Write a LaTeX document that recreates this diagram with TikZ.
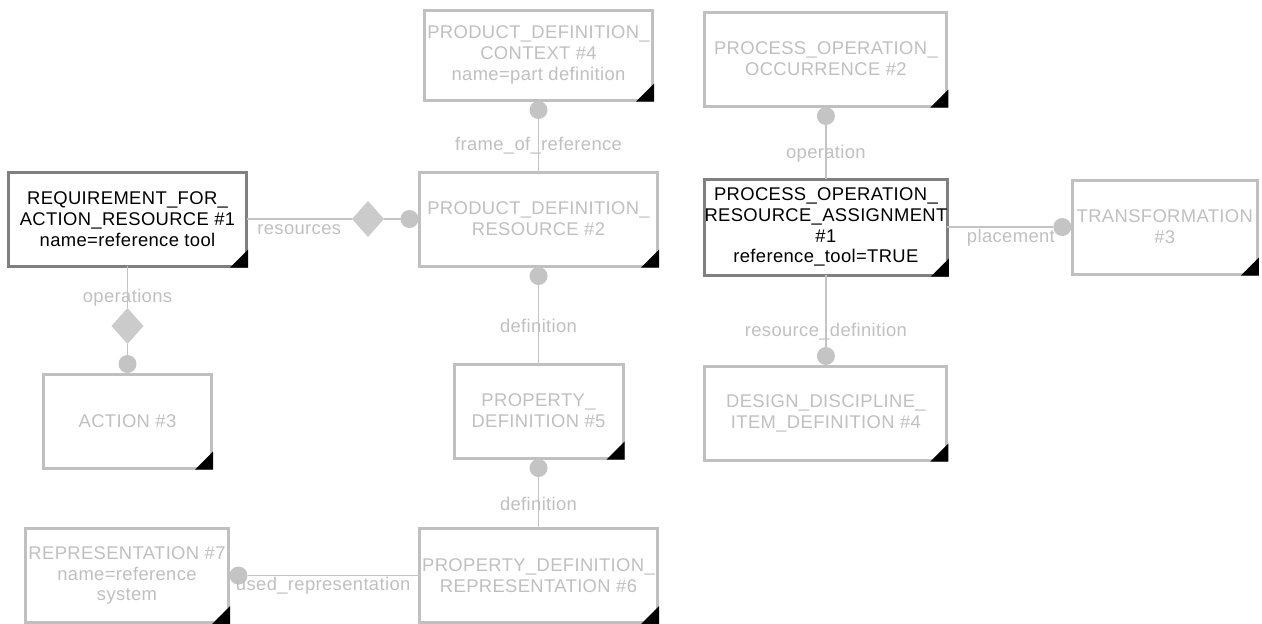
\documentclass[tikz,border=0pt]{standalone}
\usepackage{fontspec}
\setmainfont{Liberation Sans}[LetterSpace=2]
\usepackage{tikz}
\usetikzlibrary{positioning}
\usetikzlibrary{shapes.geometric}
\definecolor{boxgray}{RGB}{192,192,192}
\definecolor{framegray}{RGB}{128,128,128}
\definecolor{linegray}{RGB}{196,196,196}
\definecolor{diagray}{RGB}{203,203,203}
\newcommand{\entfont}{\fontsize{9.2pt}{10.4pt}\selectfont}

\begin{document}
\begin{tikzpicture}[
    entity/.style={rectangle, draw=boxgray, line width=1.5pt, fill=white, text=boxgray, minimum height=47pt, align=center, inner xsep=0pt, inner ysep=1pt, outer sep=0pt, font=\entfont},
    focus/.style={entity, draw=framegray, text=black},
    dot/.style={circle, fill=linegray, minimum size=9pt, inner sep=0pt, outer sep=0pt},
    agg/.style={diamond, fill=diagray, minimum width=16pt, minimum height=18pt, aspect=0.89, inner sep=0pt, outer sep=0pt},
    conn/.style={draw=linegray, line width=0.8pt},
    lbl/.style={font=\entfont, text=boxgray, inner sep=0.5pt}
]
\useasboundingbox (0,0) rectangle (631pt,-311.5pt);

% Requirement and action
\node[focus, minimum width=119pt] (req) at (63.75pt,-109.5pt) {REQUIREMENT\_FOR\_\\ACTION\_RESOURCE \#1\\name=reference tool};
\node[agg, below=21pt of req] (opsdia) {};
\node[entity, below=15pt of opsdia, minimum width=84pt] (action) {ACTION \#3};
\node[dot, above=0.5pt of action] (actdot) {};

% Product definition chain
\node[entity, right=86.5pt of req, minimum width=119pt] (pdr) {PRODUCT\_DEFINITION\_\\RESOURCE \#2};
\node[dot, left=0.5pt of pdr] (resdot) {};
\node[agg, left=8.25pt of resdot] (resdia) {};
\node[entity, above=36pt of pdr, minimum width=114pt, minimum height=45pt] (pdc) {PRODUCT\_DEFINITION\_\\CONTEXT \#4\\name=part definition};
\node[dot, below=0.5pt of pdc] (pdcdot) {};
\node[dot, below=0.5pt of pdr] (pdrdot) {};
\node[entity, below=49pt of pdr, minimum width=84.5pt] (pd5) {PROPERTY\_\\DEFINITION \#5};
\node[dot, below=0.5pt of pd5] (pd5dot) {};
\node[entity, below=35.25pt of pd5, minimum width=119pt] (pdrep) {PROPERTY\_DEFINITION\_\\REPRESENTATION \#6};
\node[entity, left=95.5pt of pdrep, minimum width=101.5pt] (rep7) {REPRESENTATION \#7\\name=reference\\system};
\node[dot, right=0.5pt of rep7] (rep7dot) {};

% Process operation
\node[focus, right=23.5pt of pdr, yshift=-4pt, minimum width=121pt, minimum height=48pt] (por) {PROCESS\_OPERATION\_\\RESOURCE\_ASSIGNMENT\\\#1\\reference\_tool=TRUE};
\node[entity, above=36.5pt of por, minimum width=121pt] (poo) {PROCESS\_OPERATION\_\\OCCURRENCE \#2};
\node[dot, below=0.5pt of poo] (poodot) {};
\node[entity, below=45.5pt of por, minimum width=121pt] (ddid) {DESIGN\_DISCIPLINE\_\\ITEM\_DEFINITION \#4};
\node[dot, above=0.5pt of ddid] (ddiddot) {};
\node[entity, right=62.5pt of por, minimum width=92.5pt] (trans) {TRANSFORMATION\\\#3};
\node[dot, left=0.5pt of trans] (transdot) {};

% Corner marks
\foreach \n in {req,action,pdr,pdc,pd5,pdrep,rep7,por,poo,ddid,trans}
    \fill ([shift={(0.75pt,-0.75pt)}]\n.south east) -- ++(0,9pt) -- ++(-9pt,-9pt) -- cycle;

% Connectors
\draw[conn] (req) -- node[lbl, yshift=-5.5pt] {resources} (resdia);
\draw[conn] (resdia) -- (resdot);
\draw[conn] (req) -- node[lbl, pos=0.76] {operations} (opsdia);
\draw[conn] (opsdia) -- (actdot);
\draw[conn] (pdcdot) -- node[lbl, pos=0.5] {frame\_of\_reference} (pdr);
\draw[conn] (pdrdot) -- node[lbl, pos=0.52] {definition} (pd5);
\draw[conn] (pd5dot) -- node[lbl, pos=0.53] {definition} (pdrep);
\draw[conn] (pdrep) -- node[lbl, pos=0.56, yshift=-5pt] {used\_representation} (rep7dot);
\draw[conn] (poodot) -- node[lbl, pos=0.54] {operation} (por);
\draw[conn] (por) -- node[lbl, pos=0.78] {resource\_definition} (ddiddot);
\draw[conn] (por) -- node[lbl, pos=0.6, yshift=-5.5pt] {placement} (transdot);

\end{tikzpicture}
\end{document}
